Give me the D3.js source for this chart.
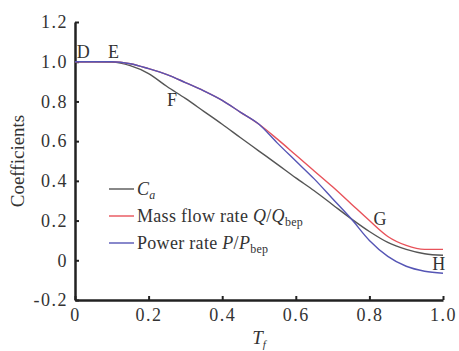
<!DOCTYPE html>
<html>
<head>
<meta charset="utf-8">
<script src="https://cdn.jsdelivr.net/npm/d3@7"></script>
<style>
  body { margin: 0; background: #fff; }
</style>
</head>
<body>
<div id="chart"></div>
<script>
// data
var tf     = [0, 0.05, 0.1, 0.15, 0.2, 0.25, 0.3, 0.35, 0.4, 0.45, 0.5, 0.55, 0.6, 0.65, 0.7, 0.75, 0.8, 0.85, 0.9, 0.95, 1.0];
var ca     = [1.0, 1.0, 0.998, 0.98, 0.94, 0.875, 0.815, 0.75, 0.685, 0.617, 0.55, 0.483, 0.415, 0.35, 0.28, 0.21, 0.145, 0.09, 0.055, 0.033, 0.025];
var massQ  = [1.0, 1.0, 1.0, 0.99, 0.965, 0.935, 0.895, 0.853, 0.805, 0.745, 0.685, 0.61, 0.53, 0.45, 0.37, 0.285, 0.2, 0.12, 0.075, 0.055, 0.055];
var powerP = [1.0, 1.0, 1.0, 0.99, 0.965, 0.935, 0.895, 0.853, 0.805, 0.745, 0.685, 0.59, 0.5, 0.41, 0.31, 0.21, 0.1, 0.02, -0.03, -0.055, -0.065];

var xTicks = [0, 0.2, 0.4, 0.6, 0.8, 1.0];
var xTickLabels = ["0", "0.2", "0.4", "0.6", "0.8", "1.0"];
var yTicks = [-0.2, 0, 0.2, 0.4, 0.6, 0.8, 1.0, 1.2];
var yTickLabels = ["-0.2", "0", "0.2", "0.4", "0.6", "0.8", "1.0", "1.2"];

// point labels on the curves
var pointNames = ["D", "E", "F", "G", "H"];
var pointX = [0.005, 0.09, 0.25, 0.811, 0.971];
var pointY = [1.02, 1.02, 0.777, 0.18, -0.05];

var serif = "Liberation Serif, DejaVu Serif, serif";
var w = 459, h = 351;
var margin = { top: 22, right: 16, bottom: 51, left: 75 };

var svg = d3.select("#chart").append("svg")
    .attr("width", w)
    .attr("height", h)
    .attr("font-family", serif);

var x = d3.scaleLinear().domain([0, 1]).range([margin.left, w - margin.right]);
var y = d3.scaleLinear().domain([-0.2, 1.2]).range([h - margin.bottom, margin.top]);

// axes
var xAxis = svg.append("g")
    .attr("transform", "translate(0," + y(-0.2) + ")")
    .call(d3.axisBottom(x).tickValues(xTicks)
        .tickFormat(function(d, i) { return xTickLabels[i]; })
        .tickSizeInner(-4).tickSizeOuter(0).tickPadding(8));

var yAxis = svg.append("g")
    .attr("transform", "translate(" + x(0) + ",0)")
    .call(d3.axisLeft(y).tickValues(yTicks)
        .tickFormat(function(d, i) { return yTickLabels[i]; })
        .tickSizeInner(-4).tickSizeOuter(0).tickPadding(7));

[xAxis, yAxis].forEach(function(g) {
    g.attr("font-family", serif).attr("font-size", 18);
    g.select(".domain").attr("stroke", "#222").attr("stroke-width", 2.5);
    g.selectAll(".tick line").attr("stroke", "#222").attr("stroke-width", 2);
    g.selectAll(".tick text").attr("fill", "#333").attr("letter-spacing", 1.5);
});

// axis titles
svg.append("text")
    .attr("transform", "translate(24," + y(0.5) + ") rotate(-90)")
    .attr("text-anchor", "middle")
    .attr("font-size", 19)
    .attr("fill", "#333")
    .text("Coefficients");

var xt = svg.append("text")
    .attr("x", x(0.5))
    .attr("y", 344)
    .attr("text-anchor", "middle")
    .attr("font-size", 19)
    .attr("fill", "#333")
    .attr("font-style", "italic");
xt.append("tspan").text("T");
xt.append("tspan").attr("dy", 4).attr("font-size", 11).text("f");

// curves
var series = [
    { name: "ca", values: ca, color: "#555555" },
    { name: "mass", values: massQ, color: "#e8525a" },
    { name: "power", values: powerP, color: "#5555b5" }
];

var line = d3.line()
    .x(function(d) { return x(d[0]); })
    .y(function(d) { return y(d[1]); })
    .curve(d3.curveMonotoneX);

series.forEach(function(s) {
    svg.append("path")
        .datum(tf.map(function(t, i) { return [t, s.values[i]]; }))
        .attr("d", line)
        .attr("fill", "none")
        .attr("stroke", s.color)
        .attr("stroke-width", 1.4);
});

// point labels
pointNames.forEach(function(n, i) {
    svg.append("text")
        .attr("x", x(pointX[i]))
        .attr("y", y(pointY[i]))
        .attr("font-size", 18)
        .attr("fill", "#333")
        .text(n);
});

// legend
var legX = 109, legY = 189, legStep = 27;
var legItems = [
    { color: "#555555", parts: [["C", "italic", 0], ["a", "italic", 1]] },
    { color: "#e8525a", parts: [["Mass flow rate ", "normal", 0], ["Q", "italic", 0], ["/", "normal", 0], ["Q", "italic", 0], ["bep", "normal", 1]] },
    { color: "#5555b5", parts: [["Power rate ", "normal", 0], ["P", "italic", 0], ["/", "normal", 0], ["P", "italic", 0], ["bep", "normal", 1]] }
];

legItems.forEach(function(item, i) {
    var ly = legY + i * legStep;
    svg.append("line")
        .attr("x1", legX).attr("x2", legX + 25)
        .attr("y1", ly).attr("y2", ly)
        .attr("stroke", item.color)
        .attr("stroke-width", 1.4);
    var t = svg.append("text")
        .attr("x", legX + 28)
        .attr("y", ly + 6)
        .attr("font-size", 18)
        .attr("letter-spacing", 0.3)
        .attr("fill", "#333");
    var sub = false;
    item.parts.forEach(function(p) {
        var ts = t.append("tspan").attr("font-style", p[1]).text(p[0]);
        if (p[2] && !sub) { ts.attr("dy", 4).attr("font-size", 12); sub = true; }
        else if (!p[2] && sub) { ts.attr("dy", -4); sub = false; }
    });
});
</script>
</body>
</html>
